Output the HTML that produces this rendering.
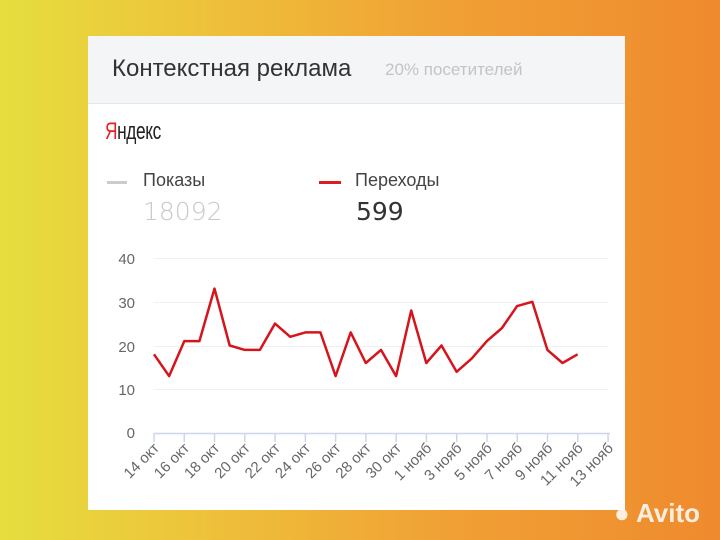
<!DOCTYPE html>
<html><head><meta charset="utf-8"><style>
body{margin:0;width:720px;height:540px;overflow:hidden;background:linear-gradient(90deg,#e6de3e 0%,#eec03a 30%,#f0a235 60%,#ef8a2e 100%);font-family:"Liberation Sans",sans-serif;position:relative}
.card{position:absolute;left:88px;top:36px;width:537px;height:474px;background:#fff}
.hdr{height:67px;background:#f4f5f7;border-bottom:1px solid #e6e8ea;position:relative}
.t{position:absolute;left:24px;top:19px;font-size:24px;color:#333}
.s{position:absolute;left:297px;top:24px;font-size:17px;color:#c4c4c4}
</style></head><body>
<div class="card"><div class="hdr"><div class="t">Контекстная реклама</div><div class="s">20% посетителей</div></div>
<div style="position:absolute;left:17px;top:82px;font-size:24px;color:#222;transform:scaleX(.72);transform-origin:left;letter-spacing:-0.5px"><span style="color:#e62020">Я</span>ндекс</div>
<div style="position:absolute;left:19px;top:145px;width:20px;height:3px;background:#ccc"></div>
<div style="position:absolute;left:55px;top:134px;font-size:18px;color:#444">Показы</div>
<div style="position:absolute;left:55px;top:161px;font-size:25px;color:#c8c8c8;font-family:'DejaVu Sans',sans-serif;font-weight:200">18092</div>
<div style="position:absolute;left:231px;top:145px;width:22px;height:3px;background:#d81e1e"></div>
<div style="position:absolute;left:267px;top:134px;font-size:18px;color:#444">Переходы</div>
<div style="position:absolute;left:268px;top:161px;font-size:25px;color:#333;font-family:'DejaVu Sans',sans-serif">599</div>
</div>
<svg width="720" height="540" style="position:absolute;left:0;top:0" font-family="Liberation Sans" font-size="15" fill="#666">
<g stroke="#eef0f3" stroke-width="1"><line x1="154" x2="608" y1="258.5" y2="258.5"/><line x1="154" x2="608" y1="302.5" y2="302.5"/><line x1="154" x2="608" y1="346.5" y2="346.5"/><line x1="154" x2="608" y1="389.5" y2="389.5"/></g>
<g text-anchor="end"><text x="135" y="264">40</text><text x="135" y="308">30</text><text x="135" y="352">20</text><text x="135" y="395">10</text><text x="135" y="438">0</text></g>
<line x1="154" x2="610" y1="433.5" y2="433.5" stroke="#ccd6eb" stroke-width="1.5"/>
<g stroke="#ccd6eb" stroke-width="1.5" id="tk"></g>
<g id="lb" text-anchor="end" font-size="15"></g>
<polyline id="ln" fill="none" stroke="#d6141c" stroke-width="2.5" stroke-linejoin="round"/>
</svg>
<div style="position:absolute;left:614px;top:498px;font-size:26px;font-weight:bold;color:rgba(255,255,255,.85)">● Avito</div>
<script>
var d=[18,13,21,21,33,20,19,19,25,22,23,23,13,23,16,19,13,28,16,20,14,17,21,24,29,30,19,16,18];
var p=d.map((v,i)=>(154+i*15.13).toFixed(1)+','+(433-v*4.375).toFixed(1)).join(' ');
document.getElementById('ln').setAttribute('points',p);
var L=['14 окт','16 окт','18 окт','20 окт','22 окт','24 окт','26 окт','28 окт','30 окт','1 нояб','3 нояб','5 нояб','7 нояб','9 нояб','11 нояб','13 нояб'];
var tk='',lb='';L.forEach((s,i)=>{var x=154+i*30.27;tk+='<line x1="'+x+'" x2="'+x+'" y1="433" y2="442"/>';lb+='<text transform="translate('+(x+6)+',449) rotate(-45)">'+s+'</text>';});
document.getElementById('tk').innerHTML=tk;document.getElementById('lb').innerHTML=lb;
</script>
</body></html>
